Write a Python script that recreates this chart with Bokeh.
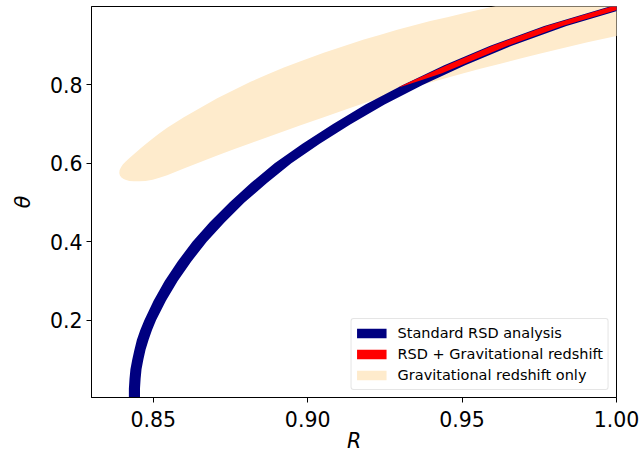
from bokeh.plotting import figure
from bokeh.models import Range1d, FixedTicker, Legend, LegendItem, Title
from bokeh.embed import file_html
from bokeh.resources import INLINE

# ---------------- data ----------------
x_range = [0.83, 1.00]
y_range = [0.003, 1.00]
x_ticks = [0.85, 0.90, 0.95, 1.00]
x_tick_labels = ["0.85", "0.90", "0.95", "1.00"]
y_ticks = [0.2, 0.4, 0.6, 0.8]
y_tick_labels = ["0.2", "0.4", "0.6", "0.8"]
x_title = "R"
y_title = "θ"

series_names = ["Standard RSD analysis", "RSD + Gravitational redshift",
                "Gravitational redshift only"]

# Standard RSD analysis: band edges (R) at each theta
blue_theta = [0.000, 0.025, 0.050, 0.075, 0.100, 0.125, 0.150, 0.175, 0.200, 0.250, 0.300, 0.350,
              0.400, 0.450, 0.500, 0.550, 0.600, 0.650, 0.700, 0.750, 0.800, 0.850, 0.900, 0.950, 1.000]
blue_R_lo = [0.8421, 0.8421, 0.8423, 0.8426, 0.8432, 0.8439, 0.8447, 0.8458, 0.8471, 0.8501, 0.8537, 0.8579,
             0.8627, 0.8683, 0.8747, 0.8816, 0.8893, 0.8983, 0.9081, 0.9187, 0.9308, 0.9442, 0.9591, 0.9766, 0.9978]
blue_R_hi = [0.8457, 0.8457, 0.8459, 0.8462, 0.8468, 0.8475, 0.8485, 0.8496, 0.8509, 0.8541, 0.8579, 0.8623,
             0.8673, 0.8731, 0.8795, 0.8868, 0.8947, 0.9039, 0.9139, 0.9249, 0.9372, 0.9510, 0.9661, 0.9838, 1.0052]

# RSD + Gravitational redshift: band edges (R) at each theta
red_theta = [0.795, 0.810, 0.830, 0.850, 0.900, 0.950, 1.000]
red_R_lo = [0.9296, 0.9337, 0.9393, 0.9450, 0.9598, 0.9773, 0.9985]
red_R_hi = [0.9300, 0.9360, 0.9435, 0.9497, 0.9648, 0.9825, 1.0040]

# Gravitational redshift only: boundary of the (clipped) contour
grav_R = [0.8392, 0.8390, 0.8391, 0.8396, 0.8402, 0.8410, 0.8423, 0.8437, 0.8464, 0.8491, 0.8518, 0.8545,
          0.8599, 0.8653, 0.8707, 0.8761, 0.8815, 0.8869, 0.8923, 0.8977, 0.9052, 0.9128, 0.9182, 0.9236,
          0.9290, 0.9342, 0.9397, 0.9452, 0.9505, 0.9559, 0.9624, 0.9689,
          1.0077,
          1.0077, 1.0000, 0.9906, 0.9818, 0.9754, 0.9689, 0.9624, 0.9559, 0.9505, 0.9452, 0.9397, 0.9342,
          0.9290, 0.9236, 0.9182, 0.9128, 0.9052, 0.8977, 0.8923, 0.8869, 0.8815, 0.8761, 0.8707, 0.8653,
          0.8599, 0.8545, 0.8520, 0.8498, 0.8475, 0.8455, 0.8437, 0.8423, 0.8412, 0.8404, 0.8397]
grav_theta = [0.5693, 0.5756, 0.5833, 0.5909, 0.5978, 0.6042, 0.6139, 0.6233, 0.6419, 0.6590, 0.6756, 0.6911,
              0.7179, 0.7421, 0.7661, 0.7873, 0.8082, 0.8263, 0.8446, 0.8602, 0.8821, 0.9017, 0.9158, 0.9280,
              0.9405, 0.9515, 0.9629, 0.9729, 0.9831, 0.9925, 1.0040, 1.0149,
              1.0149,
              0.9382, 0.9249, 0.9086, 0.8923, 0.8801, 0.8673, 0.8543, 0.8413, 0.8301, 0.8184, 0.8064, 0.7936,
              0.7809, 0.7674, 0.7531, 0.7386, 0.7179, 0.6970, 0.6820, 0.6667, 0.6514, 0.6358, 0.6200, 0.6037,
              0.5871, 0.5698, 0.5631, 0.5583, 0.5552, 0.5542, 0.5542, 0.5552, 0.5573, 0.5603, 0.5642]

colors = ["#000080", "#ff0000", "#feebcc"]

# ---------------- figure ----------------
p = figure(width=640, height=454, output_backend="svg", toolbar_location=None,
           x_range=Range1d(*x_range), y_range=Range1d(*y_range),
           min_border_left=91, min_border_right=24, min_border_top=6, min_border_bottom=57)

p.patch(grav_R, grav_theta, fill_color=colors[2], line_color=None)
p.harea(y=blue_theta, x1=blue_R_lo, x2=blue_R_hi, fill_color=colors[0])
p.harea(y=red_theta, x1=red_R_lo, x2=red_R_hi, fill_color=colors[1])

# legend swatches (invisible one-point lines used only for the legend)
nan = float("nan")
swatches = [p.line(x=[nan], y=[nan], line_color=c, line_width=9.5, line_cap="butt") for c in colors]
legend = Legend(items=[LegendItem(label=n, renderers=[r]) for n, r in zip(series_names, swatches)],
                location="bottom_right")
p.add_layout(legend)
legend.label_text_font = "DejaVu Sans"
legend.label_text_font_size = "14.5px"
legend.label_text_color = "black"
legend.glyph_width = 30
legend.glyph_height = 18
legend.label_height = 18
legend.spacing = 3
legend.padding = 5
legend.margin = 7
legend.label_standoff = 11
legend.border_line_color = "#cccccc"
legend.border_line_width = 1
legend.border_radius = 3
legend.background_fill_alpha = 0.8

p.xgrid.visible = False
p.ygrid.visible = False
p.outline_line_color = "black"
p.outline_line_width = 1

p.xaxis.ticker = FixedTicker(ticks=x_ticks)
p.xaxis.major_label_overrides = dict(zip(x_ticks, x_tick_labels))
p.yaxis.ticker = FixedTicker(ticks=y_ticks)
p.yaxis.major_label_overrides = dict(zip(y_ticks, y_tick_labels))

for ax in (p.xaxis[0], p.yaxis[0]):
    ax.major_label_text_font = "DejaVu Sans"
    ax.major_label_text_font_size = "20.5px"
    ax.major_label_text_color = "black"
    ax.axis_label_text_font = "DejaVu Sans"
    ax.axis_label_text_font_size = "20.5px"
    ax.axis_label_text_font_style = "italic"
    ax.axis_label_text_color = "black"
    ax.major_tick_out = 5
    ax.major_tick_in = 0
    ax.minor_tick_out = 0
    ax.minor_tick_in = 0
    ax.major_tick_line_color = "black"
    ax.axis_line_color = "black"

p.yaxis.axis_label = y_title
p.xaxis.major_label_standoff = 8
p.yaxis.major_label_standoff = 4
p.yaxis.axis_label_standoff = 12

# x-axis title as a Title panel below the axis
p.add_layout(Title(text=x_title, align="center", vertical_align="bottom", standoff=-6,
                   text_font="DejaVu Sans", text_font_size="20.5px", text_font_style="italic",
                   text_color="black"), "below")

open("out.html", "w").write(file_html(p, INLINE))
